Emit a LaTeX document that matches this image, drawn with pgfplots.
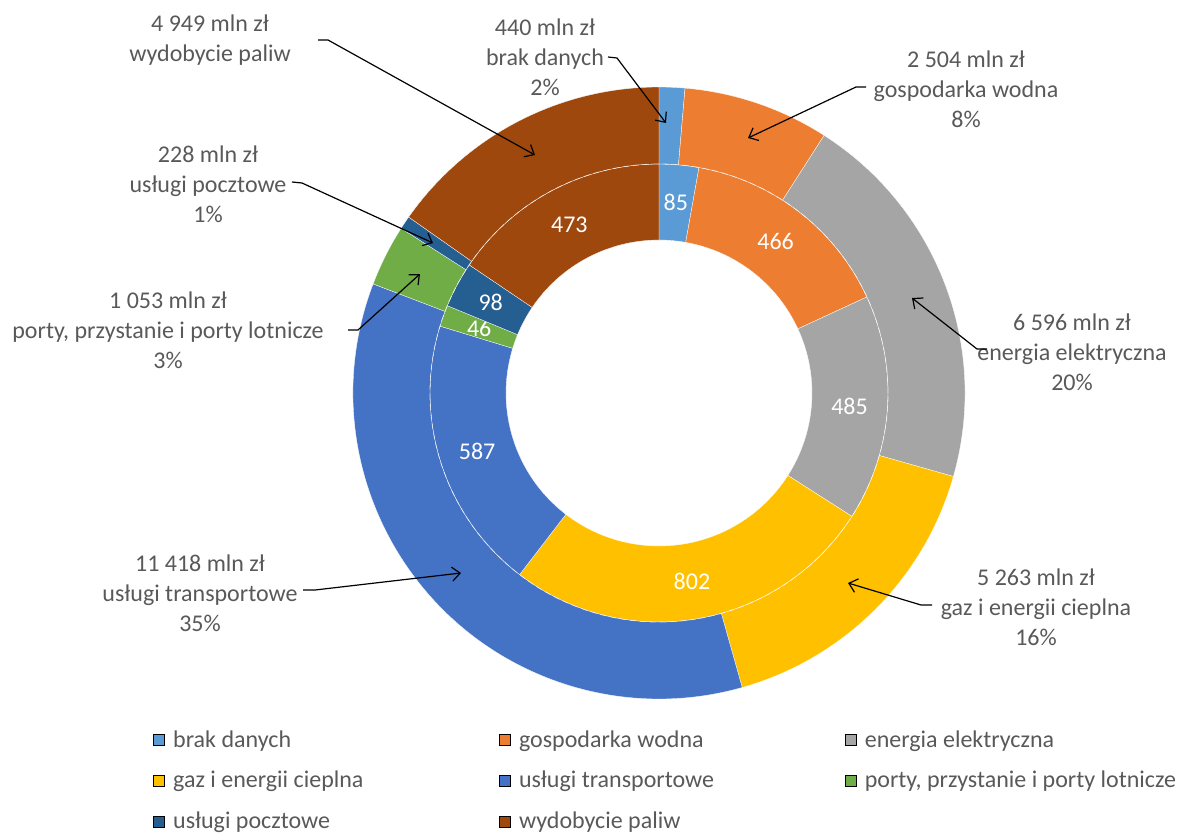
\documentclass[border=0pt]{standalone}
\usepackage{pgfplots}
\usepackage{pgfplotstable}
\pgfplotsset{compat=1.18}
\usetikzlibrary{arrows.meta}
\usepackage{fontspec}
\setmainfont{Carlito}

\definecolor{cBrak}{HTML}{5B9BD5}
\definecolor{cWoda}{HTML}{ED7D31}
\definecolor{cEnergia}{HTML}{A5A5A5}
\definecolor{cGaz}{HTML}{FFC000}
\definecolor{cTrans}{HTML}{4472C4}
\definecolor{cPorty}{HTML}{70AD47}
\definecolor{cPoczta}{HTML}{255E91}
\definecolor{cPaliwa}{HTML}{9E480E}
\definecolor{txt}{HTML}{595959}

% outer ring: mln zl, inner ring: second series
\pgfplotstableread{
value color
440   cBrak
2504  cWoda
6596  cEnergia
5263  cGaz
11418 cTrans
1053  cPorty
228   cPoczta
4949  cPaliwa
}\outerring
\pgfplotstableread{
value color
85  cBrak
466 cWoda
485 cEnergia
802 cGaz
587 cTrans
46  cPorty
98  cPoczta
473 cPaliwa
}\innerring

% #1 table, #2 inner radius, #3 outer radius, #4 1 = put values inside
\newcommand\ring[4]{%
  \pgfplotstablegetrowsof{#1}\edef\nrows{\pgfplotsretval}%
  \gdef\tot{0}%
  \foreach \i in {1,...,\nrows}{%
    \pgfplotstablegetelem{\numexpr\i-1\relax}{value}\of{#1}\xdef\tot{\fpeval{\tot+\pgfplotsretval}}}%
  \gdef\cum{0}%
  \foreach \i in {1,...,\nrows}{%
    \pgfplotstablegetelem{\numexpr\i-1\relax}{value}\of{#1}\let\v\pgfplotsretval
    \pgfplotstablegetelem{\numexpr\i-1\relax}{color}\of{#1}\let\c\pgfplotsretval
    \edef\a{\fpeval{90-360*\cum/\tot}}%
    \edef\b{\fpeval{90-360*(\cum+\v)/\tot}}%
    \edef\m{\fpeval{(\a+\b)/2}}%
    \edef\tmp{\noexpand\fill[\c, draw=white, line width=0.15pt]
      ([shift={(\a:#2)}]axis cs:659,393) arc[start angle=\a, end angle=\b, radius=#2]
      -- ([shift={(\b:#3)}]axis cs:659,393) arc[start angle=\b, end angle=\a, radius=#3] -- cycle;}%
    \tmp
    \ifnum#4=1
      \edef\tmp{\noexpand\node[inlab] at ([shift={(\m:95.5pt)}]axis cs:659,393) {\v};}%
      \tmp
    \fi
    \xdef\cum{\fpeval{\cum+\v}}%
  }}

\begin{document}
\begin{tikzpicture}[
  lab/.style={text=txt, align=center, font=\fontsize{12}{15}\selectfont},
  inlab/.style={text=white, font=\fontsize{12}{14}\selectfont},
  arr/.style={draw=black, line width=0.6pt, -{Straight Barb[length=4pt,width=7pt]}}]
\begin{axis}[
  x=0.5pt, y=0.5pt,
  xmin=0, xmax=1188, ymin=0, ymax=835,
  y dir=reverse,
  hide axis, clip=false,
  legend image code/.code={\fill[#1] (0pt,-2.75pt) rectangle (5.5pt,2.75pt);},
  legend columns=3,
  legend cell align=left,
  legend style={at={(axis cs:153,730)}, anchor=north west, draw=none, fill=none,
    font=\fontsize{12}{14}\selectfont, text=txt, inner sep=0pt,
    nodes={inner sep=0pt}, row sep=10.5pt,
    /tikz/every odd column/.append style={column sep=4pt}},
]
\coordinate (ll) at (axis cs:0,835);
\coordinate (ur) at (axis cs:1188,0);

\ring{\innerring}{76.5pt}{114.5pt}{1}
\ring{\outerring}{114.5pt}{153pt}{0}
\draw[white, line width=0.4pt, dash pattern=on 3pt off 2pt, opacity=0.5]
  (axis cs:659,393) circle[radius=114.5pt];

% outer labels with leaders
\node[lab] at (axis cs:210,40) {4 949 mln zł\\wydobycie paliw};
\draw[arr] (axis cs:318,40) -- (axis cs:328,40) -- (axis cs:535,155);
\node[lab] at (axis cs:545,57) {440 mln zł\\brak danych\\2\%};
\draw[arr] (axis cs:608,57) -- (axis cs:617,58) -- (axis cs:666,123);
\node[lab] at (axis cs:966,89) {2 504 mln zł\\gospodarka wodna\\8\%};
\draw[arr] (axis cs:866,87) -- (axis cs:856,87) -- (axis cs:748,138);
\node[lab] at (axis cs:1072,352) {6 596 mln zł\\energia elektryczna\\20\%};
\draw[arr] (axis cs:987,349) -- (axis cs:977,349) -- (axis cs:912,298);
\node[lab] at (axis cs:1036,607) {5 263 mln zł\\gaz i energii cieplna\\16\%};
\draw[arr] (axis cs:932,605) -- (axis cs:921,605) -- (axis cs:848,583);
\node[lab] at (axis cs:200,593) {11 418 mln zł\\usługi transportowe\\35\%};
\draw[arr] (axis cs:303,590) -- (axis cs:315,590) -- (axis cs:461,573);
\node[lab] at (axis cs:168,330) {1 053 mln zł\\porty, przystanie i porty lotnicze\\3\%};
\draw[arr] (axis cs:348,330) -- (axis cs:358,330) -- (axis cs:420,274);
\node[lab] at (axis cs:208,184) {228 mln zł\\usługi pocztowe\\1\%};
\draw[arr] (axis cs:292,182) -- (axis cs:302,183) -- (axis cs:433,243);

\addlegendimage{fill=cBrak}\addlegendentry{\makebox[163pt][l]{brak danych}}
\addlegendimage{fill=cWoda}\addlegendentry{\makebox[163pt][l]{gospodarka wodna}}
\addlegendimage{fill=cEnergia}\addlegendentry{\makebox[163pt][l]{energia elektryczna}}
\addlegendimage{fill=cGaz}\addlegendentry{\makebox[163pt][l]{gaz i energii cieplna}}
\addlegendimage{fill=cTrans}\addlegendentry{\makebox[163pt][l]{usługi transportowe}}
\addlegendimage{fill=cPorty}\addlegendentry{\makebox[163pt][l]{porty, przystanie i porty lotnicze}}
\addlegendimage{fill=cPoczta}\addlegendentry{\makebox[163pt][l]{usługi pocztowe}}
\addlegendimage{fill=cPaliwa}\addlegendentry{\makebox[163pt][l]{wydobycie paliw}}
\end{axis}
\pgfresetboundingbox
\path (ll) rectangle (ur);
\end{tikzpicture}
\end{document}
